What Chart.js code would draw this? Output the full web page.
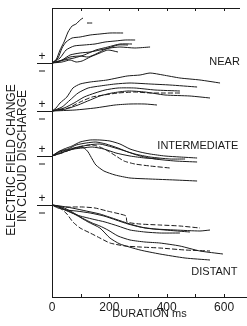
<!DOCTYPE html>
<html>
<head>
<meta charset="utf-8">
<script src="https://cdn.jsdelivr.net/npm/chart.js@4"></script>
<style>
  html, body { margin: 0; padding: 0; background: #fff; }
  canvas { display: block; }
</style>
</head>
<body>
<canvas id="chart" width="247" height="326"></canvas>
<script>
// Duration axis (ms)
const durationTicks = [0, 200, 400, 600];
const durationMax = 680;

// Labels for the groups of records
const groupLabels = ['NEAR', 'INTERMEDIATE', 'DISTANT'];
const yTitle = ['ELECTRIC FIELD CHANGE', 'IN CLOUD DISCHARGE'];

// Each trace: [duration ms, field change]
const nearTracesA = [
    [[0,0],[14,3],[28,13],[42,21],[56,31],[70,37],[84,39],[98,43],[108,45]],
    [[122,40],[143,40]],
    [[0,0],[21,5],[35,15],[49,21],[70,25],[98,26],[133,28],[167,29],[202,30],[248,30]],
    [[0,0],[28,5],[49,13],[77,17],[112,18],[150,19],[185,21],[220,22],[255,23],[290,23]],
    [[0,0],[35,3],[63,8],[98,10],[133,11],[167,13],[202,15],[237,16],[289,15],[342,16]],
    [[0,0],[42,3],[77,5],[112,8],[153,13],[195,16],[237,19],[279,19]],
    [[0,0],[35,1],[63,3],[84,1],[105,2],[133,6],[167,10],[195,13],[230,11]],
    [[0,0],[28,2],[63,6],[98,7],[126,6],[153,9],[188,14],[230,18],[265,18]]
];

const nearTracesB = [
    [[0,0],[14,3],[28,8],[52,14],[73,23],[98,27],[133,29],[192,31],[262,35],[307,36],[342,38],[387,36],[446,33],[516,31],[586,28]],
    [[0,0],[35,4],[63,11],[91,18],[126,23],[167,25],[220,27],[272,28],[342,27],[411,26],[506,24]],
    [[0,0],[42,3],[77,8],[112,14],[150,18],[185,21],[230,23],[289,23],[359,21],[446,20]],
    [[0,0],[49,2],[91,6],[133,11],[167,15],[209,18],[265,20],[324,19],[394,16],[481,15],[551,13]],
    [[0,0],[80,1],[150,3],[220,6],[272,7],[324,7],[366,6]],
    [[0,0],[56,3],[98,9],[140,14],[181,16],[230,18],[289,19],[342,18],[394,18],[446,18]]
];

const intermediateTraces = [
    [[0,0],[21,4],[42,7],[70,10],[98,14],[133,16],[167,16],[202,15],[237,12],[272,7],[307,4],[342,2],[394,0],[446,-1],[506,-2]],
    [[0,0],[28,5],[56,7],[84,11],[119,13],[153,14],[188,12],[230,8],[265,4],[307,0],[359,-3],[429,-5],[506,-6]],
    [[0,0],[28,4],[63,7],[91,9],[112,8],[126,4],[140,-3],[153,-9],[181,-15],[220,-19],[272,-22],[342,-23],[429,-24],[506,-25]],
    [[0,0],[35,3],[70,7],[105,10],[140,11],[167,9],[195,5],[223,0],[251,-5],[289,-8],[342,-10],[411,-12]],
    [[0,0],[42,4],[84,8],[126,11],[167,12],[209,9],[244,6],[289,2],[342,-1],[411,-3],[464,-3]],
    [[0,0],[21,2],[49,5],[77,7],[105,8],[140,9],[181,7],[223,3],[272,0],[324,-2],[376,-3]]
];

const distantTraces = [
    [[0,0],[28,-2],[63,-2],[108,-2],[150,-3],[192,-6],[237,-9],[258,-11],[262,-17],[307,-19],[376,-20],[446,-21],[516,-23]],
    [[0,0],[21,-3],[49,-5],[84,-6],[133,-8],[181,-11],[223,-15],[265,-19],[307,-22],[359,-24],[429,-25],[516,-26],[551,-25]],
    [[0,0],[21,-1],[45,-5],[70,-8],[98,-11],[140,-14],[185,-17],[230,-21],[272,-25],[324,-27],[376,-28],[446,-28]],
    [[0,0],[28,-3],[52,-9],[73,-17],[98,-23],[133,-28],[167,-33],[202,-38],[255,-41],[307,-42],[376,-43],[464,-45],[551,-46]],
    [[0,0],[35,-2],[70,-7],[105,-13],[140,-18],[167,-21],[195,-25],[230,-31],[272,-35],[324,-37],[376,-38],[446,-41],[516,-46],[596,-49]],
    [[0,0],[42,-4],[84,-10],[126,-17],[167,-23],[202,-33],[237,-39],[307,-45],[376,-49],[464,-53],[551,-55]],
    [[0,0],[28,-1],[70,-3],[119,-6],[167,-9],[220,-14],[272,-19],[324,-23],[394,-25],[481,-27]]
];

// zero line of each group on the shared y scale (records are stacked)
const groupZero = [234, 186, 141, 92];
const groups = [nearTracesA, nearTracesB, intermediateTraces, distantTraces];
// which traces are drawn dashed, per group
const dashedTraces = [[1], [5], [3], [0, 3]];

const FONT = 'Liberation Sans, Arial, sans-serif';
const INK = '#1a1a1a';

const datasets = [];
groups.forEach((traces, gi) => {
    traces.forEach((trace, ti) => {
        datasets.push({
            data: trace.map(p => ({ x: p[0], y: groupZero[gi] + p[1] })),
            borderColor: INK,
            borderWidth: 1,
            borderDash: dashedTraces[gi].includes(ti) ? [5, 2] : [],
            pointRadius: 0,
            tension: 0.2,
            fill: false
        });
    });
});

// frame, +/- marks, group labels and the y title
const decorations = {
    id: 'decorations',
    afterDraw(chart) {
        const { ctx, chartArea: area, scales: { x, y } } = chart;
        ctx.save();
        ctx.strokeStyle = INK;
        ctx.fillStyle = INK;
        ctx.lineWidth = 1;

        // left axis and top edge
        ctx.beginPath();
        ctx.moveTo(area.left + 0.5, area.top);
        ctx.lineTo(area.left + 0.5, area.bottom);
        ctx.moveTo(area.left, area.top + 0.5);
        ctx.lineTo(area.right - 7, area.top + 0.5);
        ctx.stroke();

        // small ticks along top and bottom
        ctx.beginPath();
        for (let v = 100; v <= 600; v += 100) {
            const px = Math.round(x.getPixelForValue(v)) + 0.5;
            ctx.moveTo(px, area.top);
            ctx.lineTo(px, area.top + 3);
            ctx.moveTo(px, area.bottom);
            ctx.lineTo(px, area.bottom - 3);
        }
        ctx.stroke();

        // zero marks with + and - for each group
        ctx.font = '12px ' + FONT;
        ctx.textAlign = 'center';
        ctx.textBaseline = 'middle';
        groupZero.forEach(z => {
            const py = Math.round(y.getPixelForValue(z)) + 0.5;
            ctx.beginPath();
            ctx.moveTo(area.left - 15, py);
            ctx.lineTo(area.left, py);
            ctx.stroke();
            ctx.fillText('+', area.left - 10, py - 7);
            ctx.fillRect(area.left - 13, py + 7, 6, 1);
        });

        // group labels on the right
        ctx.font = '11px ' + FONT;
        ctx.textAlign = 'right';
        ctx.fillText(groupLabels[0], x.getPixelForValue(655), y.getPixelForValue(groupZero[0] + 1));
        ctx.fillText(groupLabels[1], x.getPixelForValue(650), y.getPixelForValue(groupZero[2] + 10));
        ctx.fillText(groupLabels[2], x.getPixelForValue(647), y.getPixelForValue(groupZero[3] - 67));

        // y title, two rotated lines
        ctx.font = '12px ' + FONT;
        ctx.textAlign = 'center';
        ctx.save();
        ctx.translate(12, 160);
        ctx.rotate(-Math.PI / 2);
        ctx.fillText(yTitle[0], 0, 0);
        ctx.restore();
        ctx.save();
        ctx.translate(23, 156);
        ctx.rotate(-Math.PI / 2);
        ctx.fillText(yTitle[1], 0, 0);
        ctx.restore();

        ctx.restore();
    }
};

new Chart(document.getElementById('chart'), {
    type: 'line',
    data: { datasets },
    plugins: [decorations],
    options: {
        responsive: false,
        animation: false,
        devicePixelRatio: 1,
        layout: { padding: { left: 52, right: 0, top: 8, bottom: 0 } },
        plugins: { legend: { display: false }, tooltip: { enabled: false } },
        scales: {
            x: {
                type: 'linear',
                min: 0,
                max: durationMax,
                afterBuildTicks: scale => {
                    scale.ticks = durationTicks.map(v => ({ value: v }));
                },
                afterFit: scale => { scale.height = 29; },
                grid: { display: false, drawTicks: false },
                border: { display: true, color: INK, width: 1 },
                ticks: { color: INK, font: { family: FONT, size: 12 }, padding: 3, maxRotation: 0 },
                title: {
                    display: true,
                    text: 'DURATION ms',
                    color: INK,
                    font: { family: FONT, size: 11 },
                    padding: { top: 0, bottom: 5 }
                }
            },
            y: {
                display: false,
                min: 0,
                max: 289
            }
        }
    }
});
</script>
</body>
</html>
